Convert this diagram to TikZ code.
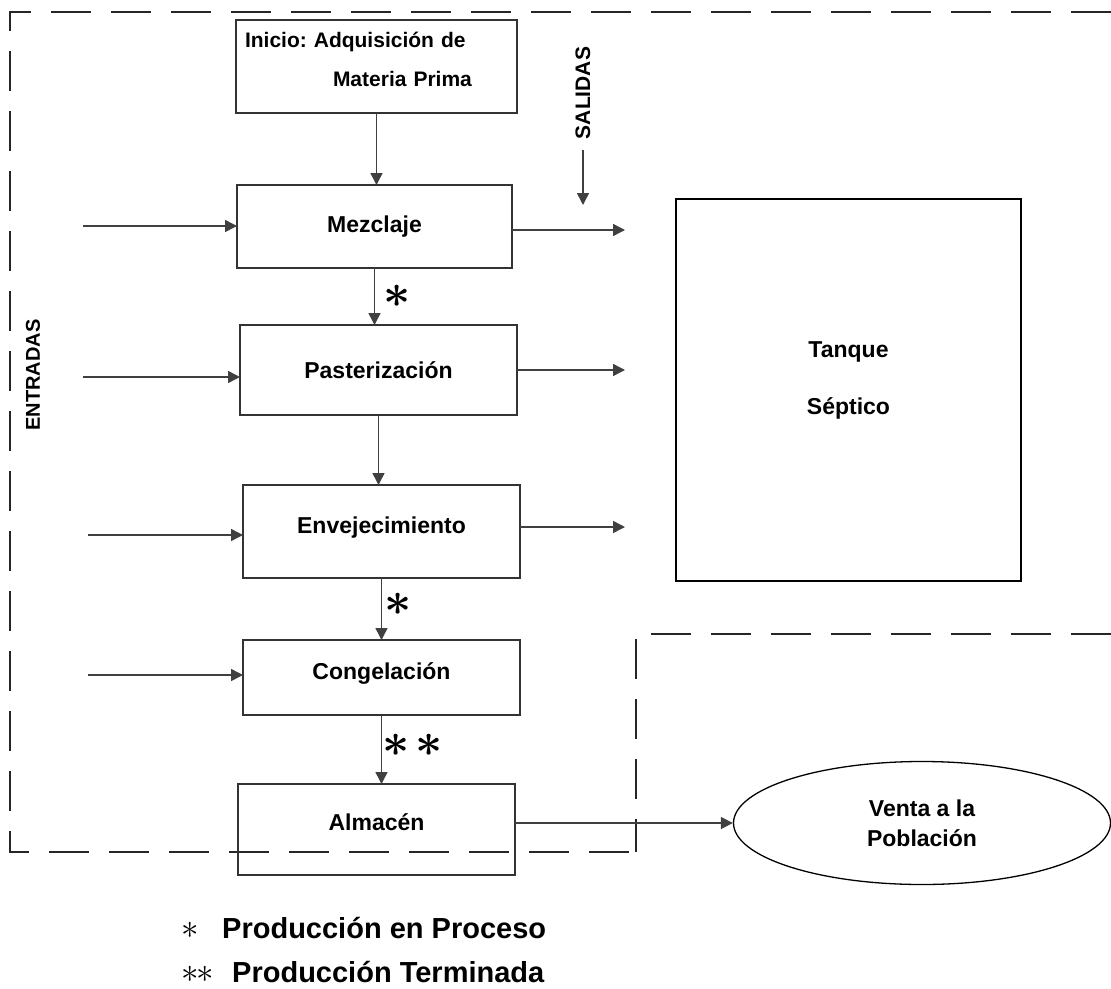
\documentclass[tikz,border=0pt]{standalone}
\usepackage{fontspec}
\usepackage{graphicx}
\setmainfont{Liberation Sans}
\usetikzlibrary{shapes.geometric,arrows.meta,positioning}

\begin{document}
\begin{tikzpicture}[
    x=1pt, y=-1pt,
    proc/.style={rectangle, draw=black!80, line width=1.6pt, outer sep=0pt, minimum width=277pt, align=center, font=\bfseries\fontsize{23}{27}\selectfont},
    arrow/.style={-{Triangle[length=12pt,width=12pt]}, line width=1.5pt, draw=black!75},
    frame/.style={draw=black!85, line width=2pt, dash pattern=on 40pt off 20pt},
    starlbl/.style={font=\fontsize{24}{24}\selectfont, inner sep=0pt},
    sidelbl/.style={rotate=90, font=\bfseries\fontsize{21}{21}\selectfont},
    legend/.style={anchor=west, inner sep=0pt, font=\bfseries\fontsize{29}{32}\selectfont}
]
\useasboundingbox (0,0) rectangle (1111,988);

% dashed frames
\draw[frame] (1111,12) -- (10,12) -- (10,852) -- (638,852);
\draw[frame] (1111,634) -- (636,634) -- (636,852);

% process chain
\node[proc, minimum width=281pt, minimum height=93pt, text width=263pt, inner xsep=9pt, align=left, text depth=53pt, font=\bfseries\fontsize{21}{25}\selectfont\frenchspacing] (inicio) at (376.5,66.5) {Inicio: Adquisición de\\[14pt]\hspace*{88pt}Materia Prima};
\node[proc, minimum width=275pt, minimum height=83pt, below=72pt of inicio, xshift=-2pt] (mezclaje) {Mezclaje};
\node[proc, minimum height=90pt, below=57pt of mezclaje, xshift=4pt] (pasteur) {Pasterización};
\node[proc, minimum height=93pt, below=70pt of pasteur, xshift=3pt, text depth=12pt] (envej) {Envejecimiento};
\node[proc, minimum height=75pt, below=62pt of envej, text depth=12pt] (congel) {Congelación};
\node[proc, minimum height=91pt, below=69pt of congel, xshift=-5pt, text depth=14pt] (almacen) {Almacén};

\node[rectangle, draw=black, line width=1.8pt, minimum width=345pt, minimum height=382pt, align=center, text depth=23pt, font=\bfseries\fontsize{23}{27}\selectfont] (tanque) at (848.5,390) {Tanque\\[30pt]Séptico};
\node[ellipse, draw=black, line width=1.3pt, inner sep=0pt, minimum width=377pt, minimum height=123pt, align=center, font=\bfseries\fontsize{23}{27}\selectfont] (venta) at (922,823) {Venta a la\\[3pt]Población};

% side labels
\node[sidelbl] (salidas) at (583,93) {SALIDAS};
\node[sidelbl, font=\bfseries\fontsize{20}{20}\selectfont] (entradas) at (33,375) {ENTRADAS};

% free ends
\coordinate (in1) at (83,226);
\coordinate (in2) at (83,377);
\coordinate (in3) at (88,535);
\coordinate (in4) at (88,675);
\coordinate (out1) at (625,230);
\coordinate (out2) at (625,370);
\coordinate (out3) at (625,527);
\coordinate (sal1) at (583,150);
\coordinate (sal2) at (583,205);

% main flow
\draw[arrow] (inicio.south) -- (inicio.south |- mezclaje.north);
\draw[arrow] (mezclaje.south) -- (mezclaje.south |- pasteur.north);
\draw[arrow] (pasteur.south) -- (pasteur.south |- envej.north);
\draw[arrow] (envej.south) -- (envej.south |- congel.north);
\draw[arrow] (congel.south) -- (congel.south |- almacen.north);
\draw[arrow] (almacen.east |- venta.west) -- (venta.west);

% inputs
\draw[arrow] (in1) -- (in1 -| mezclaje.west);
\draw[arrow] (in2) -- (in2 -| pasteur.west);
\draw[arrow] (in3) -- (in3 -| envej.west);
\draw[arrow] (in4) -- (in4 -| congel.west);

% outputs
\draw[arrow] (mezclaje.east |- out1) -- (out1);
\draw[arrow] (pasteur.east |- out2) -- (out2);
\draw[arrow] (envej.east |- out3) -- (out3);
\draw[arrow] (sal1) -- (sal2);

% stars
\node[starlbl] (star1) at (397,296) {\scalebox{1.9}{\boldmath$\ast$}};
\node[starlbl] (star2) at (398,604) {\scalebox{1.9}{\boldmath$\ast$}};
\node[starlbl] (star3) at (413,745) {\scalebox{1.9}{\boldmath$\ast\mkern2mu\ast$}};

% legend
\node[legend] (leg1) at (181,928) {\makebox[41pt][l]{\fontsize{24}{24}\selectfont\scalebox{1.4}{$\ast$}}Producción en Proceso};
\node[legend] (leg2) at (181,972) {\makebox[51pt][l]{\fontsize{24}{24}\selectfont\scalebox{1.4}{$\ast\mkern-1mu\ast$}}Producción Terminada};
\end{tikzpicture}
\end{document}
